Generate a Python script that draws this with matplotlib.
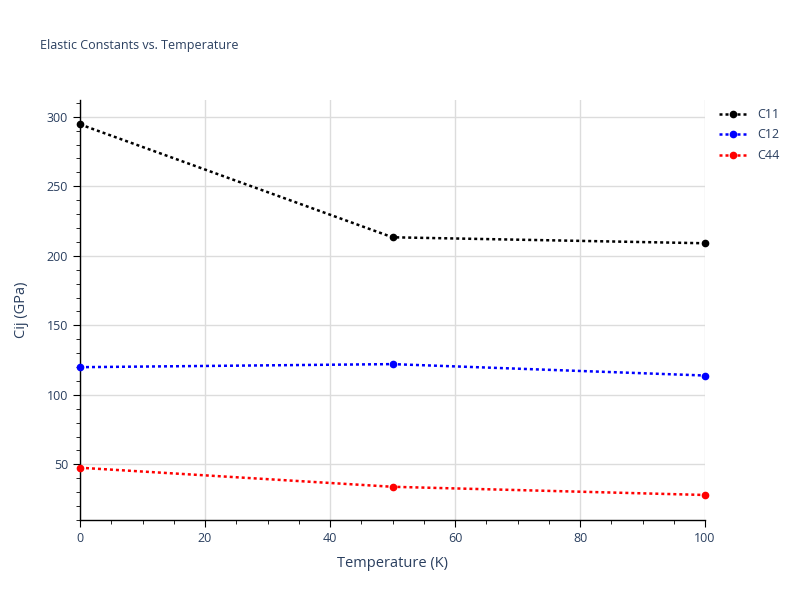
import matplotlib
matplotlib.use("Agg")
import matplotlib.pyplot as plt
from matplotlib.ticker import MultipleLocator

# data
temperature = [0, 50, 100]
c11 = [294.5, 213.3, 209.0]
c12 = [119.9, 122.1, 113.9]
c44 = [47.6, 33.9, 28.0]

series = [("C11", c11, "black"), ("C12", c12, "blue"), ("C44", c44, "red")]

text_color = "#2a3f5f"
plt.rcParams["font.family"] = ["Open Sans", "DejaVu Sans"]

fig = plt.figure(figsize=(8, 6), dpi=100)
ax = fig.add_axes([0.1, 0.1333, 0.78125, 0.7])

for name, vals, col in series:
    ax.plot(temperature, vals, linestyle=(0, (1.2, 1.2)), linewidth=1.8, color=col,
            marker="o", markersize=4.5, label=name, clip_on=False, zorder=3)

ax.set_xlim(0, 100)
ax.set_ylim(10, 312)
ax.xaxis.set_major_locator(MultipleLocator(20))
ax.xaxis.set_minor_locator(MultipleLocator(5))
ax.yaxis.set_major_locator(MultipleLocator(50))
ax.yaxis.set_minor_locator(MultipleLocator(10))

ax.grid(True, which="major", color="#dcdcdc", linewidth=1)
ax.set_axisbelow(True)
for side in ["top", "right"]:
    ax.spines[side].set_visible(False)
for side in ["left", "bottom"]:
    ax.spines[side].set_color("black")
    ax.spines[side].set_linewidth(1)

ax.tick_params(which="major", length=5, color="black", labelsize=9, labelcolor=text_color)
ax.tick_params(which="minor", length=3, color="black")

ax.set_xlabel("Temperature (K)", fontsize=10.5, color=text_color, labelpad=8)
ax.set_ylabel("Cij (GPa)", fontsize=10.5, color=text_color, labelpad=13)

fig.text(0.05, 0.924, "Elastic Constants vs. Temperature", fontsize=9,
         color=text_color, va="center", ha="left")

leg = ax.legend(loc="upper left", bbox_to_anchor=(1.005, 1.008), frameon=False,
                fontsize=9, handlelength=2.2, labelspacing=0.6)
for t in leg.get_texts():
    t.set_color(text_color)

fig.savefig("out.png", dpi=100)
